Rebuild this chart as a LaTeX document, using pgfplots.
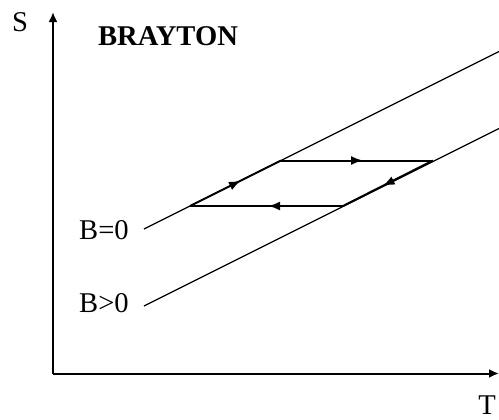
\documentclass[border=0pt]{standalone}
\usepackage{pgfplots}
\pgfplotsset{compat=1.18}
\usepackage{fontspec}
\setmainfont{Liberation Serif}
\usetikzlibrary{arrows.meta,decorations.markings}

% cycle arrow in the middle of a segment
\tikzset{midarrow/.style={postaction={decorate},
  decoration={markings, mark=at position #1 with {\arrow{Latex[length=6pt,width=4.5pt]}}}}}

\begin{document}
\begin{tikzpicture}
\begin{axis}[
    scale only axis,
    width=223pt, height=180.75pt,
    xmin=53, xmax=499,
    ymin=45.5, ymax=407,
    axis lines=left,
    axis line style={line width=1pt, -{Latex[length=5pt,width=4.5pt]}},
    xtick=\empty, ytick=\empty,
    clip=false,
    font=\fontsize{14.3}{16}\selectfont,
]
% isobars B=0 and B>0
\addplot[black, line width=0.6pt] coordinates {(144,190) (499,367.5)};
\addplot[black, line width=0.6pt] coordinates {(144,113) (499,290.5)};

% Brayton cycle
\addplot[black, line width=1pt, midarrow=0.56] coordinates {(190,213) (281,258.5)};
\addplot[black, line width=1pt, midarrow=0.54] coordinates {(281,258.5) (433,258.5)};
\addplot[black, line width=1pt, midarrow=0.56] coordinates {(433,258.5) (343,213)};
\addplot[black, line width=1pt, midarrow=0.49] coordinates {(343,213) (190,213)};

\node[inner sep=0] at (axis cs:20,397) {S};
\node[inner sep=0] at (axis cs:487,14) {T};
\node[inner sep=0, font=\fontsize{14.3}{16}\selectfont\bfseries] at (axis cs:168,383) {BRAYTON};
\node[inner sep=0] at (axis cs:104,188.5) {B=0};
\node[inner sep=0] at (axis cs:104,115.5) {B>0};

\coordinate (bl) at (axis cs:0,0);
\coordinate (tr) at (axis cs:499,419);
\end{axis}
\pgfresetboundingbox
\path (bl) rectangle (tr);
\end{tikzpicture}
\end{document}
